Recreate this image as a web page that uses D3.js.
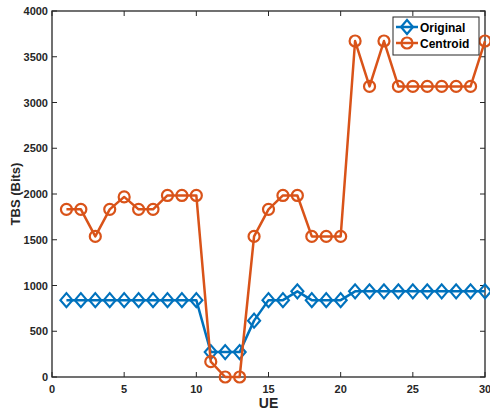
<!DOCTYPE html>
<html><head><meta charset="utf-8">
<script src="https://cdn.jsdelivr.net/npm/d3@7"></script>
<style>body{margin:0;background:#fff}svg{display:block;font-family:"Liberation Sans",Arial,sans-serif}</style>
</head><body>
<svg id="c" width="490" height="414"></svg>
<script>
const ue = d3.range(1, 31);
const original = [840,840,840,840,840,840,840,840,840,840,272,272,272,616,840,840,936,840,840,840,936,936,936,936,936,936,936,936,936,936];
const centroid = [1832,1832,1536,1832,1968,1832,1832,1984,1984,1984,168,0,0,1536,1832,1984,1984,1536,1536,1536,3672,3176,3672,3176,3176,3176,3176,3176,3176,3672];
const xTicks = [0,5,10,15,20,25,30];
const yTicks = [0,500,1000,1500,2000,2500,3000,3500,4000];
const seriesNames = ["Original","Centroid"];
const colors = ["#0072BD","#D95319"];

const svg = d3.select("#c");
const L=52, R=485, T=11, B=377;
const x = d3.scaleLinear().domain([0,30]).range([L,R]);
const y = d3.scaleLinear().domain([0,4000]).range([B,T]);
const axc = "#262626";

// ticks on all sides (inward)
const g = svg.append("g");
const tl = 5;
xTicks.forEach(t=>{
  g.append("line").attr("x1",x(t)).attr("x2",x(t)).attr("y1",B).attr("y2",B-tl).attr("stroke",axc).attr("stroke-width",1);
  g.append("line").attr("x1",x(t)).attr("x2",x(t)).attr("y1",T).attr("y2",T+tl).attr("stroke",axc).attr("stroke-width",1);
  g.append("text").attr("x",x(t)).attr("y",B+16).attr("text-anchor","middle").attr("font-size",11).attr("font-weight","bold").attr("fill",axc).text(t);
});
yTicks.forEach(t=>{
  g.append("line").attr("x1",L).attr("x2",L+tl).attr("y1",y(t)).attr("y2",y(t)).attr("stroke",axc).attr("stroke-width",1);
  g.append("line").attr("x1",R).attr("x2",R-tl).attr("y1",y(t)).attr("y2",y(t)).attr("stroke",axc).attr("stroke-width",1);
  g.append("text").attr("x",L-4).attr("y",y(t)+4).attr("text-anchor","end").attr("font-size",11).attr("font-weight","bold").attr("fill",axc).text(t);
});
g.append("rect").attr("x",L).attr("y",T).attr("width",R-L).attr("height",B-T).attr("fill","none").attr("stroke",axc).attr("stroke-width",1.3);

g.append("text").attr("x",(L+R)/2).attr("y",408).attr("text-anchor","middle").attr("font-size",14).attr("font-weight","bold").attr("fill",axc).text("UE");
g.append("text").attr("transform",`translate(20,${(T+B)/2}) rotate(-90)`).attr("text-anchor","middle").attr("font-size",13).attr("font-weight","bold").attr("fill",axc).text("TBS (Bits)");

const line = d3.line().x((d,i)=>x(ue[i])).y(d=>y(d));
const diamond = (cx,cy)=>`M${cx},${cy-7}L${cx+6},${cy}L${cx},${cy+7}L${cx-6},${cy}Z`;

[original, centroid].forEach((s,k)=>{
  svg.append("path").attr("d",line(s)).attr("fill","none").attr("stroke",colors[k]).attr("stroke-width",2.5).attr("stroke-linejoin","round");
  s.forEach((v,i)=>{
    if(k===0) svg.append("path").attr("d",diamond(x(ue[i]),y(v))).attr("fill","none").attr("stroke",colors[k]).attr("stroke-width",2.2);
    else svg.append("circle").attr("cx",x(ue[i])).attr("cy",y(v)).attr("r",5.5).attr("fill","none").attr("stroke",colors[k]).attr("stroke-width",2.2);
  });
});

// legend
const lg = svg.append("g");
lg.append("rect").attr("x",393).attr("y",17).attr("width",86).attr("height",38).attr("fill","#fff").attr("stroke",axc).attr("stroke-width",1);
seriesNames.forEach((n,k)=>{
  const ly = 27 + k*16;
  lg.append("line").attr("x1",396).attr("x2",418).attr("y1",ly).attr("y2",ly).attr("stroke",colors[k]).attr("stroke-width",2.5);
  if(k===0) lg.append("path").attr("d",diamond(407,ly)).attr("fill","none").attr("stroke",colors[k]).attr("stroke-width",2.2);
  else lg.append("circle").attr("cx",407).attr("cy",ly).attr("r",5.5).attr("fill","none").attr("stroke",colors[k]).attr("stroke-width",2.2);
  lg.append("text").attr("x",420).attr("y",ly+4.5).attr("font-size",12).attr("font-weight","bold").attr("fill","#000").text(n);
});
</script>
</body></html>
